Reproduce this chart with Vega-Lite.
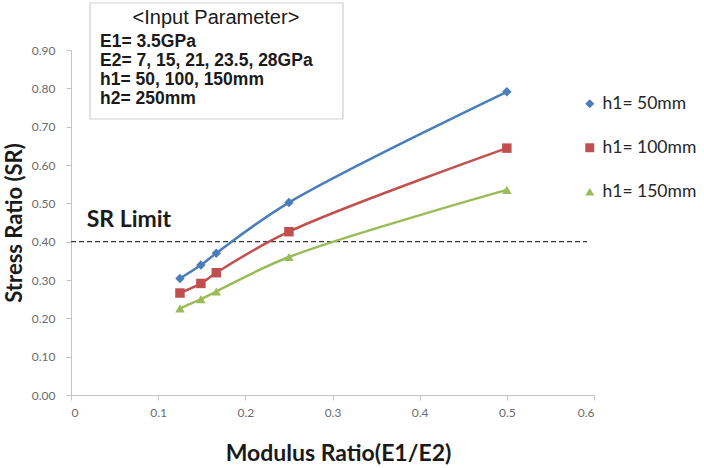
{
  "$schema": "https://vega.github.io/schema/vega-lite/v6.json",
  "width": 523,
  "height": 345,
  "autosize": {"type": "none"},
  "padding": {"left": 71, "top": 50, "right": 110, "bottom": 73},
  "background": "white",
  "config": {"view": {"stroke": null}, "font": "Lato"},
  "datasets": {
    "series": [
      {"ratio": 0.125, "sr": 0.304, "h1": "h1= 50mm"},
      {"ratio": 0.149, "sr": 0.339, "h1": "h1= 50mm"},
      {"ratio": 0.1667, "sr": 0.370, "h1": "h1= 50mm"},
      {"ratio": 0.25, "sr": 0.502, "h1": "h1= 50mm"},
      {"ratio": 0.5, "sr": 0.791, "h1": "h1= 50mm"},
      {"ratio": 0.125, "sr": 0.266, "h1": "h1= 100mm"},
      {"ratio": 0.149, "sr": 0.291, "h1": "h1= 100mm"},
      {"ratio": 0.1667, "sr": 0.319, "h1": "h1= 100mm"},
      {"ratio": 0.25, "sr": 0.426, "h1": "h1= 100mm"},
      {"ratio": 0.5, "sr": 0.644, "h1": "h1= 100mm"},
      {"ratio": 0.125, "sr": 0.226, "h1": "h1= 150mm"},
      {"ratio": 0.149, "sr": 0.250, "h1": "h1= 150mm"},
      {"ratio": 0.1667, "sr": 0.270, "h1": "h1= 150mm"},
      {"ratio": 0.25, "sr": 0.360, "h1": "h1= 150mm"},
      {"ratio": 0.5, "sr": 0.535, "h1": "h1= 150mm"}
    ],
    "limit": [{"ratio": 0, "ratio2": 0.592, "sr": 0.4}],
    "limitLabel": [{"ratio": 0.018, "sr": 0.4565, "label": "SR Limit"}],
    "paramBox": [{"ratio": 0.0218, "ratio2": 0.312, "sr": 1.0226, "sr2": 0.72}],
    "paramTitle": [{"ratio": 0.1663, "sr": 0.9835, "label": "<Input Parameter>"}],
    "paramLines": [
      {"ratio": 0.0333, "sr": 0.9209, "label": "E1= 3.5GPa"},
      {"ratio": 0.0333, "sr": 0.8713, "label": "E2= 7, 15, 21, 23.5, 28GPa"},
      {"ratio": 0.0333, "sr": 0.8217, "label": "h1= 50, 100, 150mm"},
      {"ratio": 0.0333, "sr": 0.7722, "label": "h2= 250mm"}
    ]
  },
  "encoding": {
    "x": {
      "field": "ratio", "type": "quantitative",
      "scale": {"domain": [0, 0.6], "nice": false, "zero": false},
      "axis": {
        "title": "Modulus Ratio(E1/E2)",
        "values": [0, 0.1, 0.2, 0.3, 0.4, 0.5, 0.6],
        "format": ".1~f",
        "grid": false,
        "domainColor": "#c4c4c4",
        "tickColor": "#c4c4c4",
        "tickSize": 5,
        "labelColor": "#6b6b6b",
        "labelFont": "Lato",
        "labelFontSize": 12,
        "labelPadding": 7,
        "titleFont": "Lato",
        "titleFontSize": 23,
        "titleFontWeight": "bold",
        "titleColor": "#1a1a1a",
        "titlePadding": 24,
        "titleX": 267
      }
    },
    "y": {
      "field": "sr", "type": "quantitative",
      "scale": {"domain": [0, 0.9], "nice": false, "zero": false},
      "axis": {
        "title": "Stress Ratio (SR)",
        "values": [0, 0.1, 0.2, 0.3, 0.4, 0.5, 0.6, 0.7, 0.8, 0.9],
        "format": ".2f",
        "grid": false,
        "domainColor": "#c4c4c4",
        "tickColor": "#c4c4c4",
        "tickSize": 5,
        "labelColor": "#6b6b6b",
        "labelFont": "Lato",
        "labelFontSize": 12,
        "labelPadding": 11,
        "titleFont": "Lato",
        "titleFontSize": 22,
        "titleFontWeight": "bold",
        "titleColor": "#1a1a1a",
        "titlePadding": 5
      }
    }
  },
  "layer": [
    {
      "data": {"name": "paramBox"},
      "mark": {"type": "rect", "fill": "white", "stroke": "#cfcfcf", "strokeWidth": 1.2},
      "encoding": {
        "x2": {"field": "ratio2"},
        "y2": {"field": "sr2"}
      }
    },
    {
      "data": {"name": "paramTitle"},
      "mark": {"type": "text", "align": "center", "baseline": "middle", "font": "Liberation Sans", "fontSize": 20, "color": "#1a1a1a"},
      "encoding": {"text": {"field": "label"}}
    },
    {
      "data": {"name": "paramLines"},
      "mark": {"type": "text", "align": "left", "baseline": "middle", "font": "Liberation Sans", "fontWeight": "bold", "fontSize": 17.5, "color": "#1a1a1a"},
      "encoding": {"text": {"field": "label"}}
    },
    {
      "data": {"name": "limit"},
      "mark": {"type": "rule", "color": "#3a3a3a", "strokeWidth": 1.3, "strokeDash": [5, 3]},
      "encoding": {"x2": {"field": "ratio2"}}
    },
    {
      "data": {"name": "limitLabel"},
      "mark": {"type": "text", "align": "left", "baseline": "middle", "font": "Lato", "fontWeight": "bold", "fontSize": 23, "color": "#1a1a1a"},
      "encoding": {"text": {"field": "label"}}
    },
    {
      "data": {"name": "series"},
      "mark": {"type": "line", "interpolate": "catmull-rom", "strokeWidth": 2.5},
      "encoding": {
        "color": {
          "field": "h1", "type": "nominal",
          "scale": {"domain": ["h1= 50mm", "h1= 100mm", "h1= 150mm"], "range": ["#4a7ebb", "#c0504d", "#9bbb59"]},
          "legend": {
            "title": null,
            "orient": "none",
            "legendX": 510,
            "legendY": 45,
            "labelFont": "Lato",
            "labelFontSize": 17.5,
            "labelColor": "#262626",
            "labelOffset": 4,
            "symbolSize": 80,
            "symbolStrokeWidth": 0,
            "rowPadding": 25
          }
        }
      }
    },
    {
      "data": {"name": "series"},
      "mark": {"type": "point", "filled": true, "opacity": 1, "size": 90},
      "encoding": {
        "color": {
          "field": "h1", "type": "nominal",
          "scale": {"domain": ["h1= 50mm", "h1= 100mm", "h1= 150mm"], "range": ["#4a7ebb", "#c0504d", "#9bbb59"]},
          "legend": {
            "title": null,
            "orient": "none",
            "legendX": 510,
            "legendY": 45,
            "labelFont": "Lato",
            "labelFontSize": 17.5,
            "labelColor": "#262626",
            "labelOffset": 4,
            "symbolSize": 80,
            "symbolStrokeWidth": 0,
            "rowPadding": 25
          }
        },
        "shape": {
          "field": "h1", "type": "nominal",
          "scale": {"domain": ["h1= 50mm", "h1= 100mm", "h1= 150mm"], "range": ["diamond", "square", "triangle-up"]},
          "legend": {
            "title": null,
            "orient": "none",
            "legendX": 510,
            "legendY": 45,
            "labelFont": "Lato",
            "labelFontSize": 17.5,
            "labelColor": "#262626",
            "labelOffset": 4,
            "symbolSize": 80,
            "symbolStrokeWidth": 0,
            "rowPadding": 25
          }
        }
      }
    }
  ]
}
